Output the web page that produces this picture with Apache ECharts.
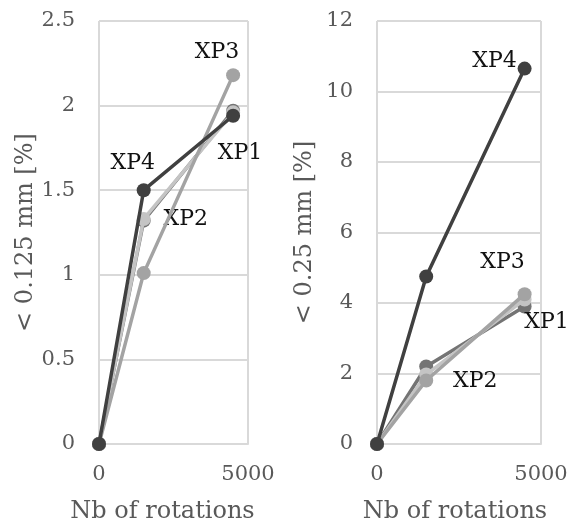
<!DOCTYPE html>
<html lang="en">
  <head>
    <meta charset="UTF-8" />
    <title>Fines vs rotations</title>
    <script src="https://cdn.jsdelivr.net/npm/echarts@6/dist/echarts.min.js"></script>
    <style>
      html, body { margin: 0; padding: 0; background: #fff; }
      #app { width: 576px; height: 529px; }
    </style>
  </head>
  <body>
    <div id="app"></div>
    <script>
      const rotations = [0, 1500, 4500];
      const seriesNames = ["XP1", "XP2", "XP3", "XP4"];
      const colors = ["#747474", "#c4c4c4", "#a3a3a3", "#404040"];

      // < 0.125 mm [%]
      const fine125 = {
        XP1: [0, 1.32, 1.97],
        XP2: [0, 1.33, 1.96],
        XP3: [0, 1.01, 2.18],
        XP4: [0, 1.5, 1.94],
      };
      // < 0.25 mm [%]
      const fine250 = {
        XP1: [0, 2.2, 3.9],
        XP2: [0, 1.97, 4.1],
        XP3: [0, 1.8, 4.25],
        XP4: [0, 4.75, 10.65],
      };

      // which point carries the name label, and where it sits
      const labels125 = { XP1: [2, [7, 43]], XP2: [1, [42, 0]], XP3: [2, [-16, -23]], XP4: [1, [-11, -27]] };
      const labels250 = { XP1: [2, [22, 16]], XP2: [1, [49, 7]], XP3: [2, [-22, -32]], XP4: [2, [-30, -7]] };

      const font = "DejaVu Serif";
      const gridLine = "#d9d9d9";

      function makeSeries(values, labels, idx) {
        return seriesNames.map((name, i) => ({
          name,
          type: "line",
          xAxisIndex: idx,
          yAxisIndex: idx,
          symbol: "circle",
          symbolSize: 14,
          lineStyle: { width: 3.5, color: colors[i] },
          itemStyle: { color: colors[i] },
          z: 2 + i,
          data: values[name].map((v, k) => {
            const item = { value: [rotations[k], v] };
            if (labels[name][0] === k) {
              item.label = {
                show: true,
                formatter: name,
                position: "inside",
                offset: labels[name][1],
                color: "#111111",
                fontFamily: font,
                fontSize: 22,
              };
            }
            return item;
          }),
        }));
      }

      function xAxis(idx, pad) {
        return {
          type: "value",
          gridIndex: idx,
          min: 0,
          max: 5000,
          interval: 5000,
          name: "Nb of rotations",
          nameLocation: "middle",
          nameGap: 56,
          nameTextStyle: { fontFamily: font, fontSize: 24, color: "#595959", padding: pad },
          axisLine: { show: true, lineStyle: { color: gridLine, width: 2 } },
          axisTick: { show: false },
          axisLabel: { fontFamily: font, fontSize: 21, color: "#595959", margin: 20, formatter: (v) => String(v) },
          splitLine: { show: true, lineStyle: { color: gridLine, width: 2 } },
        };
      }

      function yAxis(idx, name, max, interval) {
        return {
          type: "value",
          gridIndex: idx,
          min: 0,
          max,
          interval,
          name,
          nameLocation: "middle",
          nameGap: 60,
          nameTextStyle: { fontFamily: font, fontSize: 24, color: "#595959" },
          axisLine: { show: false },
          axisTick: { show: false },
          axisLabel: { fontFamily: font, fontSize: 21, color: "#595959", margin: 24 },
          splitLine: { show: true, lineStyle: { color: gridLine, width: 2 } },
        };
      }

      const option = {
        animation: false,
        backgroundColor: "#fff",
        grid: [
          { left: 99, top: 21, width: 149, height: 426 },
          { left: 377, top: 21, width: 164, height: 427 },
        ],
        xAxis: [xAxis(0, [0, 22, 0, 0]), xAxis(1, [0, 8, 0, 0])],
        yAxis: [yAxis(0, "< 0.125 mm [%]", 2.5, 0.5), yAxis(1, "< 0.25 mm [%]", 12, 2)],
        series: [...makeSeries(fine125, labels125, 0), ...makeSeries(fine250, labels250, 1)],
      };

      const chart = echarts.init(document.getElementById("app"));
      chart.setOption(option);
    </script>
  </body>
</html>
